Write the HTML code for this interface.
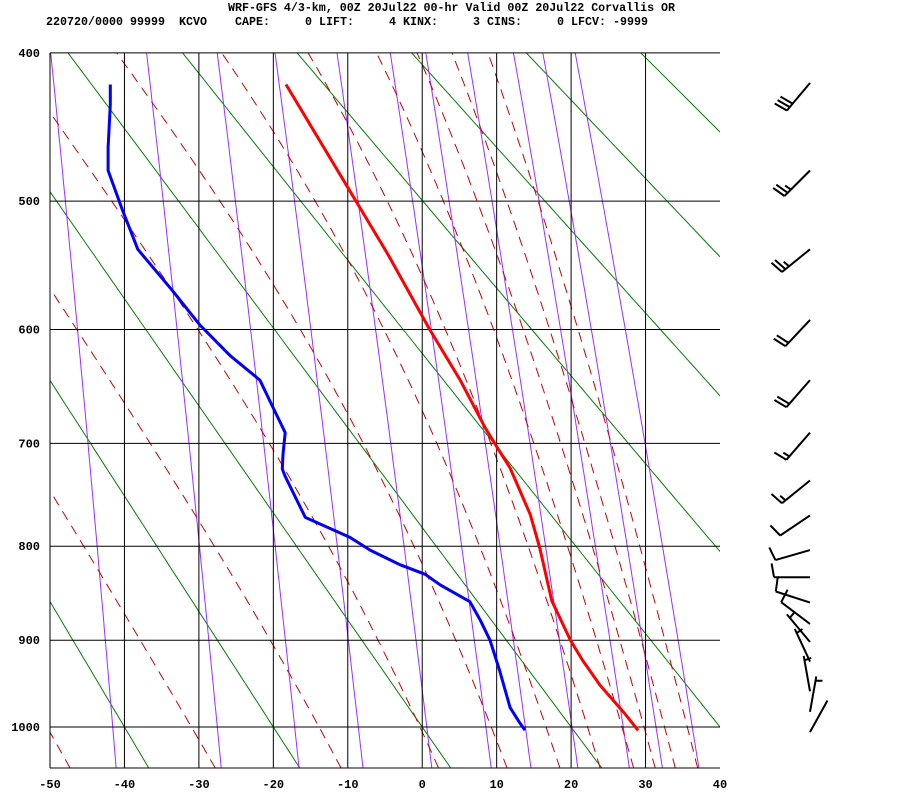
<!DOCTYPE html>
<html><head><meta charset="utf-8"><title>WRF-GFS Sounding Corvallis</title>
<style>
html,body{margin:0;padding:0;background:#fff;}
svg{display:block;font-family:"Liberation Mono",monospace;font-weight:bold;}
</style></head>
<body>
<svg id="chart" width="900" height="800" viewBox="0 0 900 800" xmlns="http://www.w3.org/2000/svg">
  <text x="228" y="11" font-size="11.5" textLength="447" lengthAdjust="spacingAndGlyphs">WRF-GFS 4/3-km, 00Z 20Jul22 00-hr Valid 00Z 20Jul22 Corvallis OR</text>
  <text x="46" y="25" font-size="11.5" textLength="602" lengthAdjust="spacingAndGlyphs" xml:space="preserve">220720/0000 99999  KCVO    CAPE:     0 LIFT:     4 KINX:     3 CINS:     0 LFCV: -9999</text>
  <defs><clipPath id="plotclip"><rect x="50" y="53" width="670" height="715"/></clipPath></defs>
  <g id="bg" clip-path="url(#plotclip)"></g>
  <g id="grid"></g>
  <g id="profiles" clip-path="url(#plotclip)"></g>
  <g id="axes"></g>
  <g id="barbs"></g>
</svg>
<script>
// ---- data ----
const xTicks = [-50,-40,-30,-20,-10,0,10,20,30,40];
const pLevels = [400,500,600,700,800,900,1000];
const tempP = [420,499,540,600,643,685,703,723,768,802,857,900,922,951,984,1004];
const tempC = [-18.3,-9.0,-4.6,1.0,5.1,8.4,10.0,11.8,14.5,15.8,17.4,19.9,21.5,23.9,27.2,29.0];
const dewP = [420,433,462,478,506,536,568,596,622,643,665,690,710,724,731,771,791,804,819,829,840,858,878,900,934,977,995,1004];
const dewC = [-41.9,-41.9,-42.2,-42.2,-40.3,-38.2,-33.6,-29.9,-25.8,-21.8,-20.2,-18.4,-18.7,-18.8,-18.4,-15.7,-9.7,-7.0,-3.0,0.4,2.4,6.4,7.8,9.1,10.4,11.8,13.1,13.8];
const dryThetaC = [-40,-20,0,20,40,60,80,100,120];
const moistT1050 = [-47.3,-27.8,-10.9,2.2,11.4,18.5,23.9,28.4,31.3,34.0,37.0];
const mixRatios = [0.1,0.4,1,2,4,7,10,15,23,30,40];
const barbP = [419,478,536,592,643,690,735,769,804,832,859,882,902,924,958,982,1006];
const barbDir = [220,225,231,223,221,221,231,236,254,270,288,307,320,335,350,10,29];
const barbSpd = [30,25,25,20,20,15,15,10,10,10,10,10,5,5,5,5,3];

// ---- scales ----
const K = 0.286, P0K = Math.pow(1000, K);
function yOf(p){ return 727 - 405.5*(P0K - Math.pow(p, K)); }
function xOf(t){ return 50 + (t+50)*7.4444; }
const NS = 'http://www.w3.org/2000/svg';
function mk(tag, parent, attrs){ const e=document.createElementNS(NS,tag); for(const k in attrs) e.setAttribute(k,attrs[k]); parent.appendChild(e); return e; }
function pathFrom(pts){ return pts.map((q,i)=>(i?'L':'M')+q[0].toFixed(1)+','+q[1].toFixed(1)).join(''); }
function es(tc){ return 6.112*Math.exp(17.67*tc/(tc+243.5)); }

const bg = document.getElementById('bg');
const grid = document.getElementById('grid');
const axes = document.getElementById('axes');
const prof = document.getElementById('profiles');
const barbs = document.getElementById('barbs');
const pList = []; for(let p=1060;p>=380;p-=5) pList.push(p);

// dry adiabats
dryThetaC.forEach(th=>{
  const pts = pList.map(p=>[xOf((th+273.15)*Math.pow(p/1000,K)-273.15), yOf(p)]);
  const el = mk('path', bg, {d:pathFrom(pts), fill:'none', stroke:'#008000', 'stroke-width':1});
  
  
});
// mixing ratio lines
mixRatios.forEach(w=>{
  const pts = pList.map(p=>{ const e=w*p/(622+w); const a=Math.log(e/6.112); return [xOf(243.5*a/(17.67-a)), yOf(p)]; });
  const el = mk('path', bg, {d:pathFrom(pts), fill:'none', stroke:'#9b30ff', 'stroke-width':1});
  
  
});
// moist adiabats
function dTdp(p,T){
  const Rd=287, Cp=1005, L=2.5e6, eps=0.622;
  const e=es(T-273.15), r=eps*e/(p-e);
  return (1/p)*(Rd*T + L*r)/(Cp + L*L*r*eps/(Rd*T*T));
}
moistT1050.forEach(t0=>{
  let T=t0+273.15, p=1050; const pts=[[xOf(t0),yOf(p)]];
  while(p>385){ const h=-2; const k1=dTdp(p,T); const k2=dTdp(p+h/2,T+h/2*k1); T+=h*k2; p+=h; pts.push([xOf(T-273.15),yOf(p)]); }
  const el = mk('path', bg, {d:pathFrom(pts), fill:'none', stroke:'#cc0000', 'stroke-width':1, 'stroke-dasharray':'10,7'});
  
  
});

// grid
xTicks.forEach(t=>{
  if(t>=40) return;
  const el = mk('line', grid, {x1:xOf(t), x2:xOf(t), y1:53, y2:768, stroke:'#000', 'stroke-width':1});
  
  
});
pLevels.forEach(p=>{
  const el = mk('line', grid, {x1:50, x2:720, y1:yOf(p), y2:yOf(p), stroke:'#000', 'stroke-width':1});
  
  
  const tx = mk('text', axes, {x:40, y:yOf(p)+4, 'font-size':12, 'text-anchor':'end'});
  tx.textContent = p;
  
  
});
{
  const el = mk('line', grid, {x1:50, x2:720, y1:768, y2:768, stroke:'#000', 'stroke-width':1});
  
  
}
xTicks.forEach(t=>{
  const tx = mk('text', axes, {x:xOf(t), y:788, 'font-size':12, 'text-anchor':'middle'});
  tx.textContent = t;
  
  
});

// profiles
{
  const tp = mk('path', prof, {d:pathFrom(tempP.map((p,i)=>[xOf(tempC[i]),yOf(p)])), fill:'none', stroke:'#ff0000', 'stroke-width':3, 'stroke-linejoin':'round'});
  
  
  const dp = mk('path', prof, {d:pathFrom(dewP.map((p,i)=>[xOf(dewC[i]),yOf(p)])), fill:'none', stroke:'#0000ff', 'stroke-width':3, 'stroke-linejoin':'round'});
  
  
}

// wind barbs
function rot(v,a){ const c=Math.cos(a), s=Math.sin(a); return [v[0]*c - v[1]*s, v[0]*s + v[1]*c]; }
barbP.forEach((p,i)=>{
  const th = barbDir[i]*Math.PI/180;
  const u = [Math.sin(th), -Math.cos(th)];
  const ax = 810, ay = yOf(p), L = 36;
  const ex = ax+u[0]*L, ey = ay+u[1]*L;
  let d = 'M'+ax.toFixed(1)+','+ay.toFixed(1)+'L'+ex.toFixed(1)+','+ey.toFixed(1);
  const b = rot(u, 80*Math.PI/180);
  let spd = barbSpd[i], pos = 0;
  const full = Math.floor(spd/10); let half = (spd%10)>=5 ? 1 : 0;
  if(full===0 && half) pos = 1;
  for(let k=0;k<full+half;k++){
    const len = k<full ? 14 : 7;
    const sx = ex - u[0]*pos*4.5, sy = ey - u[1]*pos*4.5;
    d += 'M'+sx.toFixed(1)+','+sy.toFixed(1)+'L'+(sx+b[0]*len).toFixed(1)+','+(sy+b[1]*len).toFixed(1);
    pos++;
  }
  const el = mk('path', barbs, {d:d, fill:'none', stroke:'#000', 'stroke-width':2});
  
  
});
</script>
</body></html>
